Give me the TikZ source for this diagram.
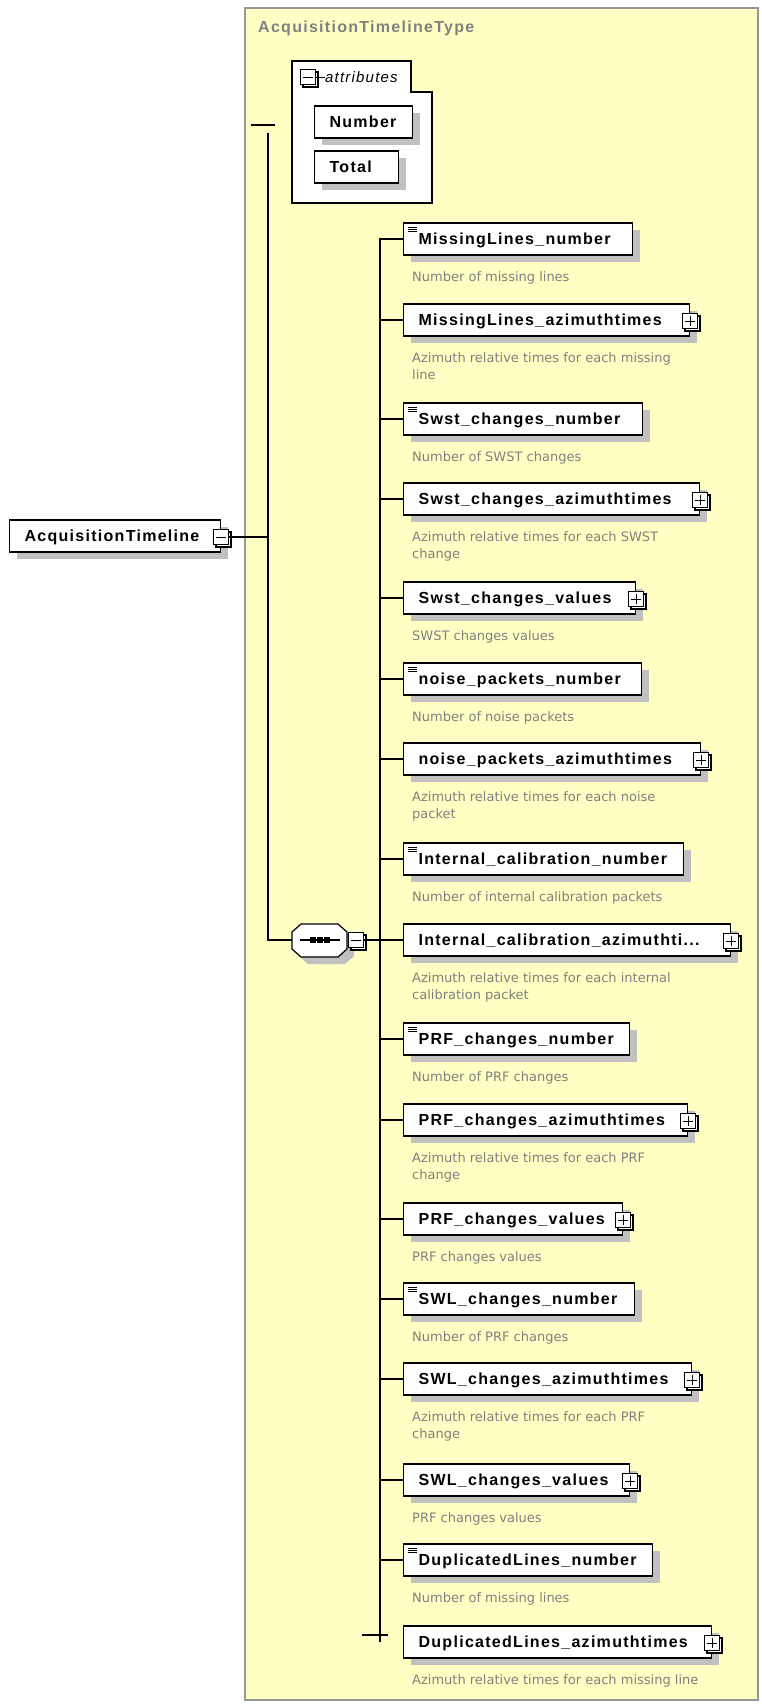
\documentclass[tikz,border=0pt]{standalone}
\usepackage{fontspec}
\setmainfont{Liberation Sans}
\newfontfamily\elemfamily[LetterSpace=8]{Liberation Sans}
\newfontfamily\descfamily{DejaVu Sans}
\usetikzlibrary{shadows}

\definecolor{typeyellow}{RGB}{255,255,196}
\definecolor{framegray}{RGB}{150,150,150}
\definecolor{shadowgray}{RGB}{192,192,192}
\definecolor{descgray}{RGB}{128,128,128}

\tikzset{
  elem/.style={draw, fill=white, line width=1.2pt, anchor=west,
    minimum height=32pt, inner xsep=15pt, inner ysep=0pt,
    text width=#1, align=left, text height=11.5pt, text depth=0pt,
    font=\elemfamily\bfseries\fontsize{16pt}{18pt}\selectfont,
    drop shadow={shadow xshift=7pt, shadow yshift=-7pt, fill=shadowgray, opacity=1}},
  simple/.style={path picture={
    \draw[line width=0.8pt]
      ([shift={(4pt,-4pt)}]path picture bounding box.north west) -- ++(9pt,0pt)
      ([shift={(4pt,-6pt)}]path picture bounding box.north west) -- ++(9pt,0pt)
      ([shift={(4pt,-8pt)}]path picture bounding box.north west) -- ++(9pt,0pt);}},
  desc/.style={anchor=base west, inner sep=0pt, align=left, text=descgray,
    font=\descfamily\fontsize{13pt}{17pt}\selectfont},
  expander/.style={draw, fill=white, line width=1.1pt, minimum size=15pt,
    inner sep=0pt, copy shadow={shadow xshift=2.5pt, shadow yshift=-2.5pt}},
  plus/.style={expander, path picture={
    \draw[line width=1pt]
      ([xshift=-5pt]path picture bounding box.center) -- ([xshift=5pt]path picture bounding box.center)
      ([yshift=-5pt]path picture bounding box.center) -- ([yshift=5pt]path picture bounding box.center);}},
  minus/.style={expander, path picture={
    \draw[line width=1pt]
      ([xshift=-5pt]path picture bounding box.center) -- ([xshift=5pt]path picture bounding box.center);}},
  conn/.style={line width=1.2pt}
}

\begin{document}
\begin{tikzpicture}[x=1pt,y=-1pt]
\useasboundingbox (0,0) rectangle (762,1708);
% the complex type frame
\draw[fill=typeyellow, draw=framegray, line width=1.2pt] (245,8) rectangle (758,1700);
\node[anchor=west, inner sep=0pt, text=descgray,
  font=\elemfamily\bfseries\fontsize{16pt}{18pt}\selectfont] (ttl) at (258,28) {AcquisitionTimelineType};

% attributes
\draw[fill=white, line width=1.2pt] (292,61) -- (411,61) -- (411,92) -- (432,92) -- (432,203) -- (292,203) -- cycle;
\node[minus] (attrx) at (308,77) {};
\draw[line width=1pt] (attrx.east) -- ++(9,0);
\node[anchor=west, inner sep=0pt,
  font=\elemfamily\itshape\fontsize{15pt}{17pt}\selectfont] (attrlbl) at (325,77) {attributes};
\node[elem=68pt] (num) at (314,122) {Number};
\node[elem=54pt] (tot) at (314,167) {Total};

% root element
\node[elem=181pt] (root) at (9,536) {AcquisitionTimeline};
\node[minus] (rootx) at (221,537) {};

% sequence compositor
\fill[shadowgray, shift={(7,7)}] (301,924) -- (338,924) -- (347,932) -- (347,949) -- (338,957)
  -- (301,957) -- (292,949) -- (292,932) -- cycle;
\draw[fill=white, line width=1.2pt] (301,924) -- (338,924) -- (347,932) -- (347,949) -- (338,957)
  -- (301,957) -- (292,949) -- (292,932) -- cycle;
\coordinate (seq) at (319.5,940);
\coordinate (seqw) at (292,940);
\draw[line width=1.2pt] ([xshift=-20pt]seq) -- ([xshift=20pt]seq);
\fill ([shift={(-10pt,-3pt)}]seq) rectangle ++(6pt,6pt);
\fill ([shift={(-3pt,-3pt)}]seq) rectangle ++(6pt,6pt);
\fill ([shift={(4pt,-3pt)}]seq) rectangle ++(6pt,6pt);
\node[minus] (seqx) at (356,940) {};

% child elements
\node[elem=199pt, simple] (e1) at (403,239) {MissingLines\_number};
\node[elem=256pt] (e2) at (403,320) {MissingLines\_azimuthtimes};
\node[elem=209pt, simple] (e3) at (403,419) {Swst\_changes\_number};
\node[elem=266pt] (e4) at (403,499) {Swst\_changes\_azimuthtimes};
\node[elem=202pt] (e5) at (403,598) {Swst\_changes\_values};
\node[elem=208pt, simple] (e6) at (403,679) {noise\_packets\_number};
\node[elem=267pt] (e7) at (403,759) {noise\_packets\_azimuthtimes};
\node[elem=250pt, simple] (e8) at (403,859) {Internal\_calibration\_number};
\node[elem=297pt] (e9) at (403,940) {Internal\_calibration\_azimuthti...};
\node[elem=196pt, simple] (e10) at (403,1039) {PRF\_changes\_number};
\node[elem=254pt] (e11) at (403,1120) {PRF\_changes\_azimuthtimes};
\node[elem=189pt] (e12) at (403,1219) {PRF\_changes\_values};
\node[elem=201pt, simple] (e13) at (403,1299) {SWL\_changes\_number};
\node[elem=258pt] (e14) at (403,1379) {SWL\_changes\_azimuthtimes};
\node[elem=196pt] (e15) at (403,1480) {SWL\_changes\_values};
\node[elem=219pt, simple] (e16) at (403,1560) {DuplicatedLines\_number};
\node[elem=278pt] (e17) at (403,1642) {DuplicatedLines\_azimuthtimes};

% expand boxes
\node[plus] (x2) at (690,321) {};
\node[plus] (x4) at (700,500) {};
\node[plus] (x5) at (636,599) {};
\node[plus] (x7) at (701,760) {};
\node[plus] (x9) at (731,941) {};
\node[plus] (x11) at (688,1121) {};
\node[plus, line width=1.8pt] (x12) at (623,1220) {};
\node[plus] (x14) at (692,1380) {};
\node[plus] (x15) at (630,1481) {};
\node[plus] (x17) at (712,1643) {};

% annotations (two-line ones sit on their last line)
\node[desc] (d1) at (412,281) {Number of missing lines};
\node[desc] (d2) at (412,379) {Azimuth relative times for each missing\\line};
\node[desc] (d3) at (412,461) {Number of SWST changes};
\node[desc] (d4) at (412,558) {Azimuth relative times for each SWST\\change};
\node[desc] (d5) at (412,640) {SWST changes values};
\node[desc] (d6) at (412,721) {Number of noise packets};
\node[desc] (d7) at (412,818) {Azimuth relative times for each noise\\packet};
\node[desc] (d8) at (412,901) {Number of internal calibration packets};
\node[desc] (d9) at (412,999) {Azimuth relative times for each internal\\calibration packet};
\node[desc] (d10) at (412,1081) {Number of PRF changes};
\node[desc] (d11) at (412,1179) {Azimuth relative times for each PRF\\change};
\node[desc] (d12) at (412,1261) {PRF changes values};
\node[desc] (d13) at (412,1341) {Number of PRF changes};
\node[desc] (d14) at (412,1438) {Azimuth relative times for each PRF\\change};
\node[desc] (d15) at (412,1522) {PRF changes values};
\node[desc] (d16) at (412,1602) {Number of missing lines};
\node[desc] (d17) at (412,1684) {Azimuth relative times for each missing line};

% connectors
\coordinate (attrdash) at (251,125);
\coordinate (trunk) at (268,133);
\coordinate (spineend) at (380,1642);
\coordinate (tick) at (380,1635);
\draw[conn] (attrdash) -- ++(24,0);
\draw[conn] (trunk) |- (seqw);
\draw[conn] (rootx.east) -- (rootx.east -| trunk);
\draw[conn] (seqx.east) -- (e9.west);
\draw[conn] (e1.west) -| (spineend);
\draw[conn] (e2.west) -- (e2.west -| spineend) (e3.west) -- (e3.west -| spineend)
  (e4.west) -- (e4.west -| spineend) (e5.west) -- (e5.west -| spineend)
  (e6.west) -- (e6.west -| spineend) (e7.west) -- (e7.west -| spineend)
  (e8.west) -- (e8.west -| spineend) (e10.west) -- (e10.west -| spineend)
  (e11.west) -- (e11.west -| spineend) (e12.west) -- (e12.west -| spineend)
  (e13.west) -- (e13.west -| spineend) (e14.west) -- (e14.west -| spineend)
  (e15.west) -- (e15.west -| spineend) (e16.west) -- (e16.west -| spineend);
\draw[conn] ([xshift=-18pt]tick) -- ([xshift=8pt]tick);
\end{tikzpicture}
\end{document}
